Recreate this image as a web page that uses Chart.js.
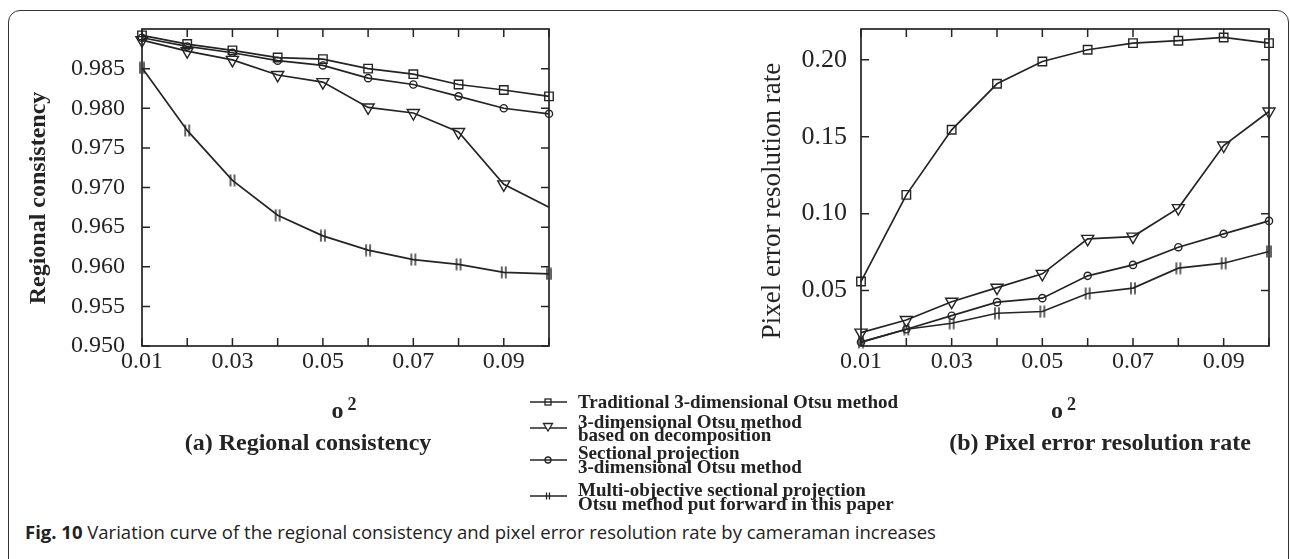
<!DOCTYPE html>
<html>
<head>
<meta charset="utf-8">
<script src="https://cdn.jsdelivr.net/npm/chart.js@4/dist/chart.umd.min.js"></script>
<style>
html,body{margin:0;padding:0;background:#fff;width:1290px;height:559px;overflow:hidden;position:relative;font-family:"Liberation Serif",serif;color:#222;}
#frame{position:absolute;left:8px;top:10px;width:1281px;height:570px;border:1.6px solid #333;border-radius:12px;box-sizing:border-box;}
#w1{position:absolute;left:0;top:0;width:580px;height:470px;}
#w2{position:absolute;left:700px;top:0;width:590px;height:470px;}
.lg-text{position:absolute;left:578px;font-family:"Liberation Serif",serif;font-weight:bold;font-size:19px;line-height:19px;white-space:nowrap;color:#222;}
.lg-mark{position:absolute;left:528px;width:42px;height:16px;}
#caption{position:absolute;left:25px;top:522px;font-family:"Open Sans",sans-serif;font-size:18.5px;line-height:20px;color:#222;white-space:nowrap;}
#caption b{font-weight:bold;}
</style>
</head>
<body>
<div id="frame"></div>
<div id="w1"><canvas id="c1" width="580" height="470"></canvas></div>
<div id="w2"><canvas id="c2" width="590" height="470"></canvas></div>
<div id="legend"></div>
<div id="caption"><b>Fig. 10</b> Variation curve of the regional consistency and pixel error resolution rate by cameraman increases</div>
<script>
// ---------------- data ----------------
const sigma2 = [0.01, 0.02, 0.03, 0.04, 0.05, 0.06, 0.07, 0.08, 0.09, 0.10];
const xTickLabels = ['0.01', '0.03', '0.05', '0.07', '0.09'];
const rcTicks = [0.950, 0.955, 0.960, 0.965, 0.970, 0.975, 0.980, 0.985];
const perTicks = [0.05, 0.10, 0.15, 0.20];

const seriesNames = [
  ['Traditional 3-dimensional Otsu method'],
  ['3-dimensional Otsu method', 'based on decomposition'],
  ['Sectional projection', '3-dimensional Otsu method'],
  ['Multi-objective sectional projection', 'Otsu method put forward in this paper']
];

// (a) Regional consistency
const rcTraditional    = [0.9892, 0.9881, 0.9873, 0.9864, 0.9862, 0.9850, 0.9843, 0.9830, 0.9823, 0.9815];
const rcDecomposition  = [0.9886, 0.9872, 0.9861, 0.9842, 0.9833, 0.9801, 0.9794, 0.9770, 0.9704, 0.9675];
const rcSectional      = [0.9889, 0.9878, 0.9870, 0.9860, 0.9854, 0.9838, 0.9830, 0.9815, 0.9800, 0.9793];
const rcMultiObjective = [0.9851, 0.9772, 0.9709, 0.9665, 0.9639, 0.9621, 0.9609, 0.9603, 0.9593, 0.9591];

// (b) Pixel error resolution rate
const perTraditional    = [0.0559, 0.1122, 0.1545, 0.1844, 0.1989, 0.2065, 0.2108, 0.2124, 0.2145, 0.2108];
const perDecomposition  = [0.0227, 0.0309, 0.0428, 0.0519, 0.0609, 0.0836, 0.0851, 0.1036, 0.1443, 0.1664];
const perSectional      = [0.0165, 0.0249, 0.0337, 0.0425, 0.0451, 0.0596, 0.0667, 0.0782, 0.0869, 0.0953];
const perMultiObjective = [0.0165, 0.0249, 0.0288, 0.0353, 0.0364, 0.0481, 0.0516, 0.0646, 0.0678, 0.0754];

// ---------------- styles ----------------
const INK = '#242424';
function makePlusMarker() {
  const c = document.createElement('canvas');
  c.width = 12; c.height = 13;
  const g = c.getContext('2d');
  g.strokeStyle = INK; g.lineWidth = 1.4;
  g.beginPath();
  g.moveTo(4, 0.5); g.lineTo(4, 12.5);
  g.moveTo(8, 0.5); g.lineTo(8, 12.5);
  g.stroke();
  return c;
}
const plusMarker = makePlusMarker();

const markerStyles = [
  {pointStyle: 'rect', rotation: 0, radius: 6},
  {pointStyle: 'triangle', rotation: 180, radius: 7},
  {pointStyle: 'circle', rotation: 0, radius: 3.6},
  {pointStyle: plusMarker, rotation: 0, radius: 5}
];

function dataset(i, values, hideLast) {
  const m = markerStyles[i];
  return {
    label: seriesNames[i].join(' '),
    data: sigma2.map((x, k) => ({x: x, y: values[k]})),
    borderColor: INK,
    borderWidth: 1.7,
    tension: 0,
    fill: false,
    clip: false,
    pointStyle: m.pointStyle,
    pointRotation: m.rotation,
    pointRadius: (ctx) => (hideLast && ctx.dataIndex === sigma2.length - 1) ? 0 : m.radius,
    pointBorderColor: INK,
    pointBackgroundColor: 'rgba(0,0,0,0)',
    pointBorderWidth: 1.4
  };
}

const decor = {
  id: 'decor',
  beforeDatasetsDraw(chart) {
    const {ctx, chartArea: a, scales} = chart;
    ctx.save();
    ctx.strokeStyle = INK;
    ctx.lineWidth = 1.7;
    ctx.strokeRect(a.left, a.top, a.right - a.left, a.bottom - a.top);
    ctx.lineWidth = 1.5;
    ctx.beginPath();
    scales.x.ticks.forEach(t => {
      const px = scales.x.getPixelForValue(t.value);
      ctx.moveTo(px, a.top); ctx.lineTo(px, a.top + 8);
      ctx.moveTo(px, a.bottom); ctx.lineTo(px, a.bottom - 8);
    });
    scales.y.ticks.forEach(t => {
      const py = scales.y.getPixelForValue(t.value);
      ctx.moveTo(a.left, py); ctx.lineTo(a.left + 8, py);
      ctx.moveTo(a.right, py); ctx.lineTo(a.right - 8, py);
    });
    ctx.stroke();
    ctx.restore();
  },
  afterDraw(chart, args, o) {
    const {ctx, chartArea: a} = chart;
    const cx = (a.left + a.right) / 2;
    ctx.save();
    ctx.fillStyle = INK;
    // y title
    ctx.save();
    ctx.font = o.yFont;
    ctx.translate(o.yBaseX, o.yCenterY);
    ctx.rotate(-Math.PI / 2);
    ctx.textAlign = 'center';
    ctx.textBaseline = 'alphabetic';
    ctx.fillText(o.yTitle, 0, 0);
    ctx.restore();
    // x title: o^2
    ctx.textBaseline = 'alphabetic';
    ctx.textAlign = 'left';
    ctx.font = 'bold 24px "Liberation Serif"';
    ctx.fillText('o', cx - 14, 418);
    ctx.font = 'bold 18px "Liberation Serif"';
    ctx.fillText('2', cx + 2, 410);
    // subtitle
    ctx.textAlign = 'center';
    ctx.font = 'bold 24px "Liberation Serif"';
    ctx.fillText(o.sub, o.subX, 450);
    ctx.restore();
  }
};

function makeChart(id, datasets, yMin, yMax, yTicks, yFmt, yWidth, padRight, tickFont, yPad, decorOpts) {
  return new Chart(document.getElementById(id), {
    type: 'line',
    data: {datasets: datasets},
    options: {
      responsive: false,
      animation: false,
      devicePixelRatio: 1,
      layout: {padding: {left: 0, top: 29, right: padRight, bottom: 470 - 346 - 40}},
      plugins: {legend: {display: false}, tooltip: {enabled: false}, decor: decorOpts},
      scales: {
        x: {
          type: 'linear', min: 0.01, max: 0.10,
          grid: {display: false, drawTicks: false},
          border: {display: false},
          afterBuildTicks: (s) => { s.ticks = sigma2.map(v => ({value: v})); },
          afterFit: (s) => { s.height = 40; },
          ticks: {
            autoSkip: false, maxRotation: 0, padding: 4, color: INK,
            font: {family: '"Liberation Serif"', size: 24, lineHeight: 1},
            callback: (v) => { const s = Number(v).toFixed(2); return xTickLabels.includes(s) ? s : ''; }
          }
        },
        y: {
          type: 'linear', min: yMin, max: yMax,
          grid: {display: false, drawTicks: false},
          border: {display: false},
          afterBuildTicks: (s) => { s.ticks = yTicks.map(v => ({value: v})); },
          afterFit: (s) => { s.width = yWidth; },
          ticks: {
            autoSkip: false, padding: yPad, color: INK,
            font: {family: '"Liberation Serif"', size: tickFont, lineHeight: 1},
            callback: (v) => Number(v).toFixed(yFmt)
          }
        }
      }
    },
    plugins: [decor]
  });
}

makeChart('c1', [
  dataset(0, rcTraditional),
  dataset(1, rcDecomposition, true),
  dataset(2, rcSectional),
  dataset(3, rcMultiObjective)
], 0.950, 0.990, rcTicks, 3, 142, 31, 24, 17,
  {yTitle: 'Regional consistency', yFont: 'bold 24px "Liberation Serif"', yBaseX: 45, yCenterY: 198,
   sub: '(a) Regional consistency', subX: 308});

makeChart('c2', [
  dataset(0, perTraditional),
  dataset(1, perDecomposition),
  dataset(2, perSectional),
  dataset(3, perMultiObjective)
], 0.014, 0.220, perTicks, 2, 161, 21, 26, 14,
  {yTitle: 'Pixel error resolution rate', yFont: '27px "Liberation Serif"', yBaseX: 80, yCenterY: 201,
   sub: '(b) Pixel error resolution rate', subX: 400});

// ---------------- legend (HTML) ----------------
const legendBaselines = [[408], [427.5, 440.5], [458.5, 472.5], [495.5, 509.5]];
const legendMarkY = [402, 428, 460, 496];
const legendEl = document.getElementById('legend');
function markerSvg(i) {
  let m = '';
  if (i === 0) m = '<rect x="17" y="5" width="6" height="6" fill="none" stroke="' + INK + '" stroke-width="1.3"/>';
  if (i === 1) m = '<polygon points="15.5,3.5 24.5,3.5 20,11" fill="#fff" stroke="' + INK + '" stroke-width="1.3"/>';
  if (i === 2) m = '<circle cx="20" cy="8" r="3" fill="none" stroke="' + INK + '" stroke-width="1.3"/>';
  if (i === 3) m = '<path d="M18.5 4.5 V11.5 M21.5 4.5 V11.5" stroke="' + INK + '" stroke-width="1.3"/>';
  return '<svg width="42" height="16" xmlns="http://www.w3.org/2000/svg"><line x1="2" y1="8" x2="39" y2="8" stroke="' + INK + '" stroke-width="1.7"/>' + m + '</svg>';
}
seriesNames.forEach((lines, i) => {
  const mk = document.createElement('div');
  mk.className = 'lg-mark';
  mk.style.top = (legendMarkY[i] - 8) + 'px';
  mk.innerHTML = markerSvg(i);
  legendEl.appendChild(mk);
  lines.forEach((line, j) => {
    const tx = document.createElement('div');
    tx.className = 'lg-text';
    tx.style.top = (legendBaselines[i][j] - 15.9) + 'px';
    tx.textContent = line;
    legendEl.appendChild(tx);
  });
});
</script>
</body>
</html>
